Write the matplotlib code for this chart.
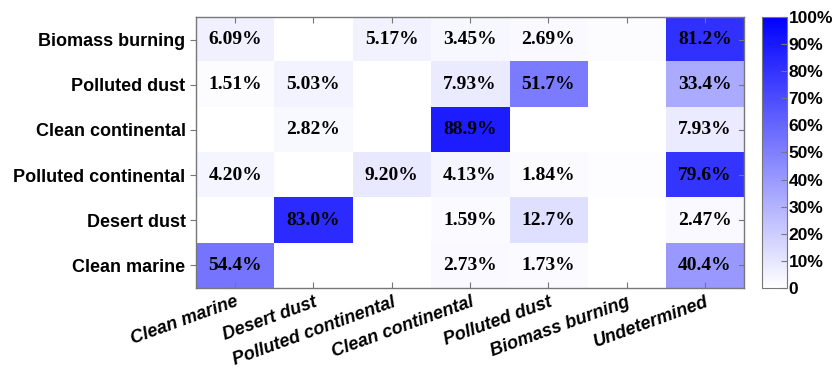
import numpy as np
import matplotlib
matplotlib.use('Agg')
from matplotlib import pyplot as plt
from matplotlib.colors import LinearSegmentedColormap

# classes as rows (top to bottom) and predicted types as columns
row_labels = ['Biomass burning', 'Polluted dust', 'Clean continental',
              'Polluted continental', 'Desert dust', 'Clean marine']
col_labels = ['Clean marine', 'Desert dust', 'Polluted continental',
              'Clean continental', 'Polluted dust', 'Biomass burning', 'Undetermined']

biomass_burning = [6.09, 0, 5.17, 3.45, 2.69, 1.4, 81.2]
polluted_dust = [1.51, 5.03, 0, 7.93, 51.7, 0, 33.4]
clean_continental = [0, 2.82, 0, 88.9, 0, 0, 7.93]
polluted_continental = [4.20, 0, 9.20, 4.13, 1.84, 1.0, 79.6]
desert_dust = [0, 83.0, 0, 1.59, 12.7, 0, 2.47]
clean_marine = [54.4, 0, 0, 2.73, 1.73, 0, 40.4]

cbar_ticks = [0, 10, 20, 30, 40, 50, 60, 70, 80, 90, 100]
cbar_ticklabels = ['0'] + ['%d%%' % t for t in cbar_ticks[1:]]

data = np.array([biomass_burning, polluted_dust, clean_continental,
                 polluted_continental, desert_dust, clean_marine])

cmap = LinearSegmentedColormap.from_list('wb', [(1, 1, 1), (0, 0, 1)])

fig = plt.figure(figsize=(8.32, 3.71), dpi=100)
ax = fig.add_axes([0.2356, 0.2237, 0.6587, 0.7305])
cax = fig.add_axes([0.916, 0.2237, 0.030, 0.7305])

im = ax.imshow(data, cmap=cmap, vmin=0, vmax=100, aspect='auto')

for i in range(data.shape[0]):
    for j in range(data.shape[1]):
        v = data[i, j]
        if v >= 1.5:
            txt = '%.2f%%' % v if v < 10 else '%.1f%%' % v
            ax.text(j, i, txt, ha='center', va='center', fontsize=14,
                    fontweight='bold', family='Liberation Serif', color='black')

ax.set_xticks(range(len(col_labels)))
ax.set_yticks(range(len(row_labels)))
ax.set_yticklabels(row_labels, fontsize=13, fontweight='bold', family='Liberation Sans')
ax.set_xticklabels(col_labels, fontsize=13, fontweight='bold', style='italic',
                   family='Liberation Sans', rotation=20, ha='right',
                   rotation_mode='anchor')
ax.tick_params(axis='x', direction='in', top=True, length=4, color='#777777', pad=4)
ax.tick_params(axis='y', direction='out', right=False, length=4, color='#777777')
# inward ticks on the right edge
for i in range(len(row_labels)):
    ax.plot([6.5, 6.43], [i, i], color='#777777', lw=0.8, clip_on=False)
for s in ax.spines.values():
    s.set_color('#777777')
    s.set_linewidth(1.0)

cb = fig.colorbar(im, cax=cax)
cb.set_ticks(cbar_ticks)
cb.set_ticklabels(cbar_ticklabels)
cb.ax.tick_params(direction='in', length=4, color='#777777', labelsize=12.5, pad=1)
for lab in cb.ax.get_yticklabels():
    lab.set_fontweight('bold')
    lab.set_family('Liberation Sans')
cb.outline.set_edgecolor('#777777')

fig.savefig('out.png', dpi=100)
